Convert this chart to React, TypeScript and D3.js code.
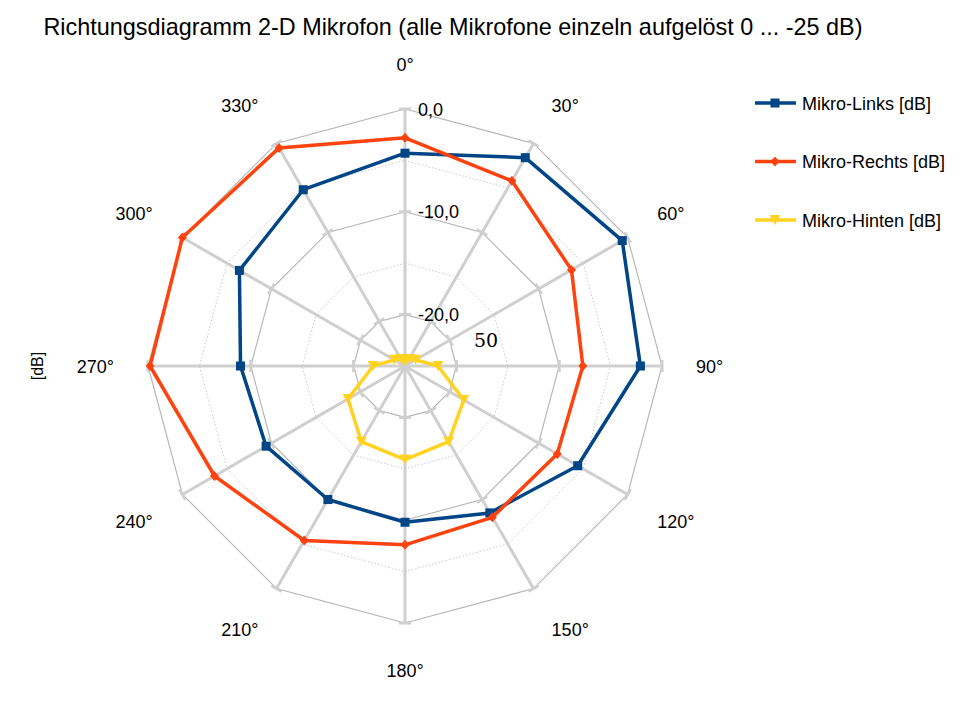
import React from 'react';
import * as d3 from 'd3';

const angles = [0, 30, 60, 90, 120, 150, 180, 210, 240, 270, 300, 330];
const angleLabels = angles.map((a) => `${a}°`);
const mikroLinks = [-4.3, -1.6, -0.6, -2.1, -5.6, -8.5, -9.8, -10.0, -9.4, -9.0, -6.4, -5.2];
const mikroRechts = [-2.8, -4.2, -6.3, -7.7, -7.9, -8.0, -7.6, -5.4, -3.6, -0.2, 0.0, -0.5];
const mikroHinten = [-24.5, -24.2, -23.8, -21.8, -18.4, -16.5, -15.9, -16.5, -18.6, -21.9, -23.8, -24.2];
const majorTicks = [0, -10, -20];
const majorTickLabels = ['0,0', '-10,0', '-20,0'];
const minorTicks = [-5, -15];
const seriesNames = ['Mikro-Links [dB]', 'Mikro-Rechts [dB]', 'Mikro-Hinten [dB]'];
const seriesColors = ['#004586', '#ff420e', '#ffd320'];
const seriesMarkers = ['square', 'diamond', 'triangle'];

const W = 972;
const H = 713;
const cx = 405;
const cy = 366;
const R = 257;
const FONT = '"Liberation Sans", Arial, sans-serif';
const LABEL_FS = 18;

const rScale = d3.scaleLinear().domain([-25, 0]).range([0, R]);
const aScale = d3.scaleLinear().domain([0, 360]).range([0, 2 * Math.PI]);

function pt(angleDeg: number, r: number): [number, number] {
  const a = aScale(angleDeg);
  return [cx + r * Math.sin(a), cy - r * Math.cos(a)];
}

function ringPath(v: number) {
  const r = rScale(v);
  return (
    angles.map((a, i) => {
      const [x, y] = pt(a, r);
      return `${i === 0 ? 'M' : 'L'}${x},${y}`;
    }).join('') + 'Z'
  );
}

function Marker({ type, x, y, color }: { type: string; x: number; y: number; color: string }) {
  if (type === 'square') {
    return <rect x={x - 4.5} y={y - 4.5} width={9} height={9} fill={color} />;
  }
  if (type === 'diamond') {
    return <path d={`M${x},${y - 5}L${x + 4.5},${y}L${x},${y + 5}L${x - 4.5},${y}Z`} fill={color} />;
  }
  return <path d={`M${x - 5.5},${y - 5}L${x + 5.5},${y - 5}L${x},${y + 5}Z`} fill={color} />;
}

function labelPos(a: number, label: string): [number, number] {
  const rad = aScale(a);
  const s = Math.sin(rad);
  const c = Math.cos(rad);
  const r0 = 291 + 4 * Math.pow(c, 4);
  const [x, y] = pt(a, r0);
  const digits = label.length - 1;
  const hw = (LABEL_FS * (0.556 * digits + 0.4)) / 2;
  const sx = Math.abs(s) < 1e-6 ? 0 : Math.sign(s);
  const sy = Math.abs(c) < 1e-6 ? 0 : Math.sign(c);
  const dy = sy > 0 ? -7 : sy < 0 ? 9.5 : 0;
  return [x + sx * hw, y + dy];
}

export default function App() {
  const series = [mikroLinks, mikroRechts, mikroHinten];
  const line = d3
    .lineRadial<number>()
    .angle((_, i) => aScale(angles[i]))
    .radius((d) => rScale(d))
    .curve(d3.curveLinearClosed);

  return (
    <svg width={W} height={H} style={{ position: 'absolute', left: 0, top: 0, background: '#fff' }} fontFamily={FONT}>
      <rect x={0} y={0} width={W} height={H} fill="#fff" />
      <text x={453} y={35} fontSize={23.4} textAnchor="middle" fill="#000">
        Richtungsdiagramm 2-D Mikrofon (alle Mikrofone einzeln aufgelöst 0 ... -25 dB)
      </text>

      {/* minor rings */}
      {minorTicks.map((v) => (
        <path key={`mi${v}`} d={ringPath(v)} fill="none" stroke="#bbbbbb" strokeWidth={0.8} strokeDasharray="1.5,2" />
      ))}
      {/* major rings */}
      {majorTicks.map((v) => (
        <path key={`ma${v}`} d={ringPath(v)} fill="none" stroke="#b3b3b3" strokeWidth={1.1} />
      ))}
      {/* spokes */}
      {angles.map((a) => {
        const [x, y] = pt(a, R);
        return <line key={`s${a}`} x1={cx} y1={cy} x2={x} y2={y} stroke="#cfcfcf" strokeWidth={3} />;
      })}
      {/* ticks on spokes */}
      {angles.map((a) =>
        majorTicks.map((v) => {
          const r = rScale(v);
          const [x, y] = pt(a, r);
          const ang = aScale(a);
          const dx = Math.cos(ang) * 6;
          const dy = Math.sin(ang) * 6;
          return (
            <line key={`t${a}_${v}`} x1={x - dx} y1={y - dy} x2={x + dx} y2={y + dy} stroke="#cfcfcf" strokeWidth={3} />
          );
        })
      )}

      {/* tick labels */}
      {majorTicks.map((v, i) => (
        <text key={`tl${v}`} x={cx + 13} y={cy - rScale(v) + 6.5} fontSize={18} fill="#000">
          {majorTickLabels[i]}
        </text>
      ))}
      <text x={474} y={347} fontSize={19} fontFamily="'DejaVu Serif', 'Liberation Serif', serif" fill="#000">
        50
      </text>

      {/* angle labels */}
      {angles.map((a, i) => {
        const [x, y] = labelPos(a, angleLabels[i]);
        return (
          <text key={`al${a}`} x={x} y={y + 6.5} fontSize={LABEL_FS} textAnchor="middle" fill="#000">
            {angleLabels[i]}
          </text>
        );
      })}

      <text
        x={0}
        y={0}
        fontSize={16}
        textAnchor="middle"
        fill="#000"
        transform={`translate(43,366) rotate(-90)`}
      >
        [dB]
      </text>

      {/* series */}
      {series.map((s, si) => (
        <g key={`g${si}`}>
          <path
            d={line(s) || ''}
            transform={`translate(${cx},${cy})`}
            fill="none"
            stroke={seriesColors[si]}
            strokeWidth={3.5}
            strokeLinejoin="round"
          />
          {s.map((v, i) => {
            const [x, y] = pt(angles[i], rScale(v));
            return <Marker key={`m${si}_${i}`} type={seriesMarkers[si]} x={x} y={y} color={seriesColors[si]} />;
          })}
        </g>
      ))}

      {/* legend */}
      {seriesNames.map((n, i) => {
        const y = 103 + i * 58.5;
        return (
          <g key={`lg${i}`}>
            <line x1={755} y1={y} x2={796} y2={y} stroke={seriesColors[i]} strokeWidth={3.5} />
            <Marker type={seriesMarkers[i]} x={775} y={y} color={seriesColors[i]} />
            <text x={802} y={y + 6.5} fontSize={18} fill="#000">
              {n}
            </text>
          </g>
        );
      })}
    </svg>
  );
}
